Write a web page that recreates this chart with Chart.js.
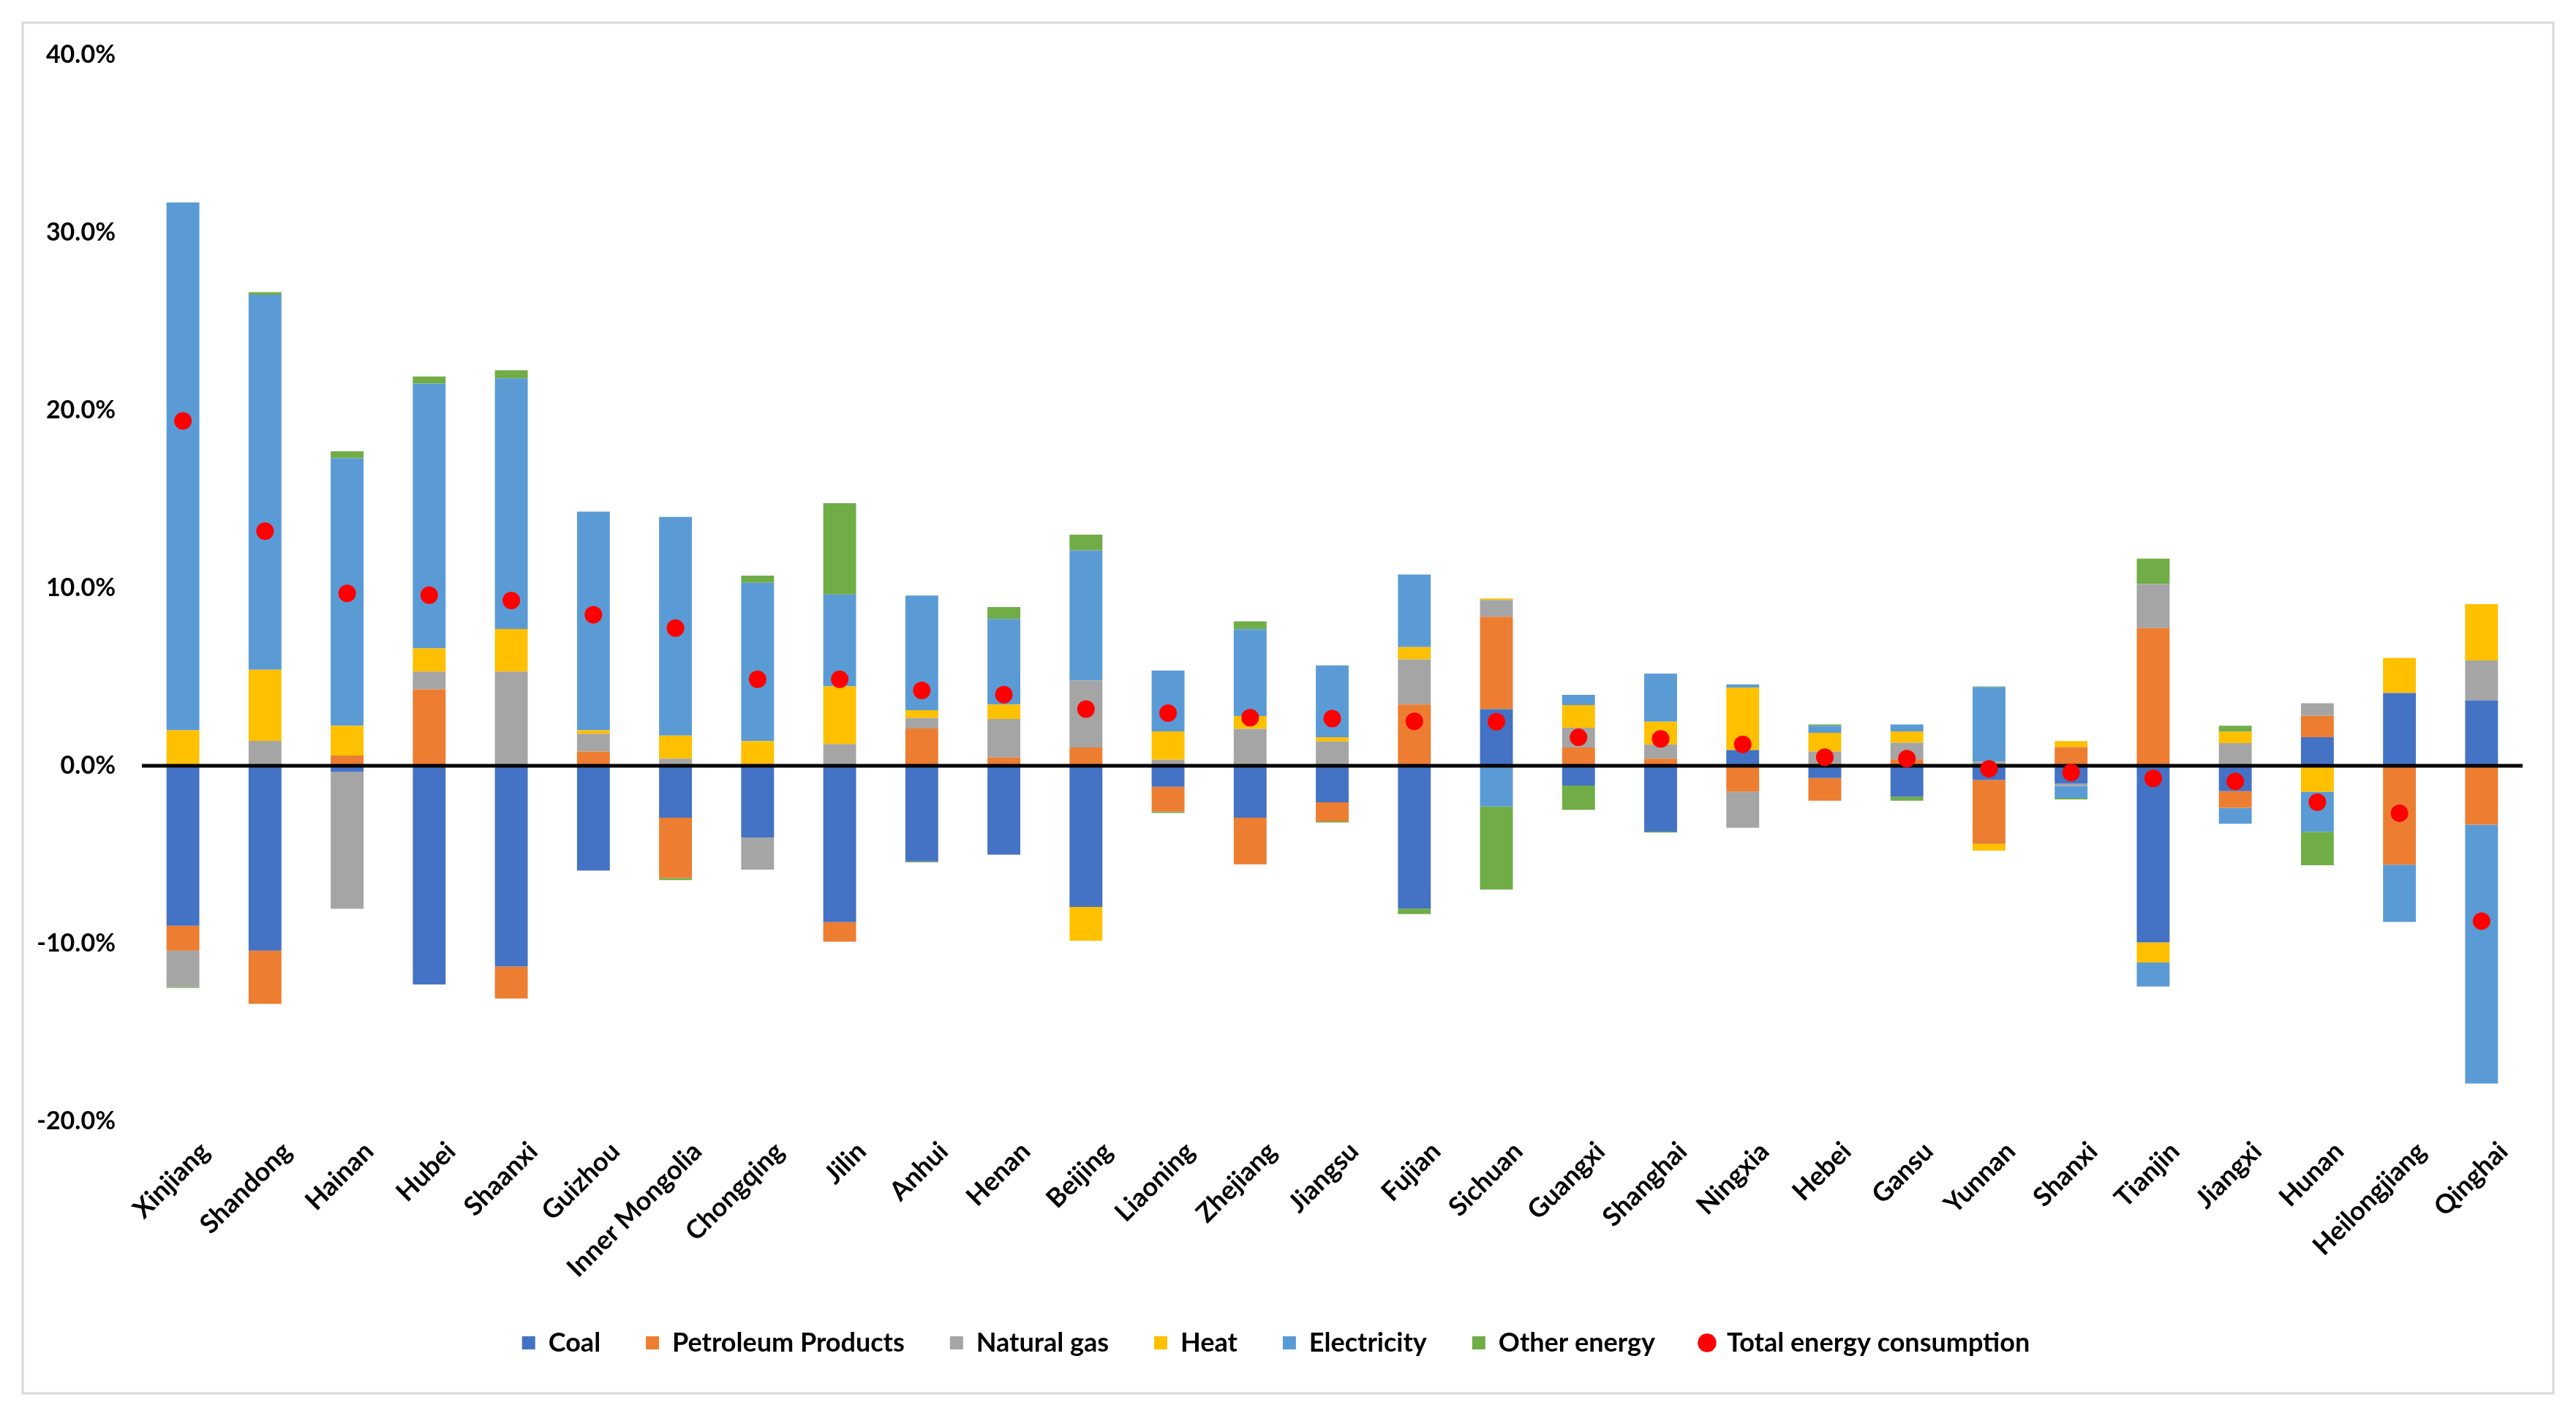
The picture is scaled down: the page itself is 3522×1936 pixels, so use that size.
<!DOCTYPE html>
<html>
<head>
<meta charset="utf-8">
<script src="https://cdn.jsdelivr.net/npm/chart.js@4.4.1/dist/chart.umd.min.js"></script>
<style>
  html, body { margin: 0; padding: 0; background: #fff; overflow: hidden; }
  canvas { display: block; }
</style>
</head>
<body>
<canvas id="chart" width="3522" height="1936"></canvas>
<script>
var regions = ['Xinjiang', 'Shandong', 'Hainan', 'Hubei', 'Shaanxi', 'Guizhou', 'Inner Mongolia',
  'Chongqing', 'Jilin', 'Anhui', 'Henan', 'Beijing', 'Liaoning', 'Zhejiang', 'Jiangsu', 'Fujian',
  'Sichuan', 'Guangxi', 'Shanghai', 'Ningxia', 'Hebei', 'Gansu', 'Yunnan', 'Shanxi', 'Tianjin',
  'Jiangxi', 'Hunan', 'Heilongjiang', 'Qinghai'];

// contribution to growth rate (%)
var coal = [-9.0, -10.4, -0.35, -12.3, -11.3, -5.9, -2.92, -4.03, -8.8, -5.38, -5.0, -7.94, -1.18, -2.92, -2.06,
  -8.03, 3.19, -1.11, -3.7, 0.88, -0.69, -1.74, -0.8, -1.01, -9.94, -1.43, 1.61, 4.09, 3.68];
var petroleum = [-1.4, -3.0, 0.58, 4.3, -1.8, 0.8, -3.4, 0.1, -1.1, 2.1, 0.46, 1.03, -1.4, -2.63, -1.07,
  3.45, 5.19, 1.03, 0.4, -1.45, -1.28, 0.36, -3.59, 1.05, 7.75, -0.94, 1.2, -5.57, -3.31];
var naturalGas = [-2.05, 1.4, -7.7, 1.0, 5.3, 1.0, 0.4, -1.81, 1.22, 0.59, 2.17, 3.76, 0.34, 2.08, 1.37,
  2.54, 0.95, 1.11, 0.8, -2.04, 0.8, 0.94, 0.23, -0.12, 2.48, 1.28, 0.71, 0, 2.25];
var heat = [2.0, 4.0, 1.67, 1.3, 2.4, 0.2, 1.3, 1.29, 3.25, 0.44, 0.82, -1.91, 1.59, 0.72, 0.23,
  0.69, 0.08, 1.28, 1.28, 3.51, 1.05, 0.63, -0.38, 0.34, -1.13, 0.63, -1.46, 1.98, 3.16];
var electricity = [29.7, 21.1, 15.05, 14.9, 14.1, 12.3, 12.3, 8.91, 5.17, 6.45, 4.81, 7.33, 3.43, 4.89, 4.05,
  4.08, -2.29, 0.57, 2.71, 0.19, 0.4, 0.4, 4.2, -0.68, -1.35, -0.89, -2.25, -3.22, -14.57];
var otherEnergy = [-0.05, 0.15, 0.4, 0.4, 0.45, 0, -0.11, 0.4, 5.13, -0.05, 0.67, 0.88, -0.07, 0.44, -0.06,
  -0.31, -4.68, -1.37, -0.06, 0, 0.08, -0.23, 0.04, -0.08, 1.43, 0.34, -1.89, 0, 0];
var totalEnergy = [19.4, 13.2, 9.7, 9.6, 9.3, 8.5, 7.75, 4.87, 4.87, 4.24, 4.0, 3.19, 2.96, 2.71, 2.65,
  2.5, 2.48, 1.6, 1.51, 1.2, 0.48, 0.4, -0.17, -0.38, -0.71, -0.88, -2.05, -2.67, -8.74];

var yMin = -20, yMax = 40, yStep = 10;

var fontFamily = 'Lato, "Open Sans", sans-serif';

function barSet(label, data, color) {
  return {
    type: 'bar',
    label: label,
    data: data,
    backgroundColor: color,
    borderWidth: 0,
    pointStyle: 'rect',
    barPercentage: 0.4,
    categoryPercentage: 1.0,
    stack: 'energy'
  };
}

// light grey frame round the whole chart
var framePlugin = {
  id: 'frame',
  beforeDraw: function(chart) {
    var ctx = chart.ctx;
    ctx.save();
    ctx.fillStyle = '#fff';
    ctx.fillRect(0, 0, chart.width, chart.height);
    ctx.strokeStyle = '#d9d9d9';
    ctx.lineWidth = 3;
    ctx.strokeRect(31, 31, chart.width - 62, chart.height - 62);
    ctx.restore();
  }
};

// black zero line over the bars, under the red dots
var zeroLine = {
  id: 'zeroLine',
  beforeDatasetDraw: function(chart, args) {
    if (args.meta.type !== 'line') return;
    var y = chart.scales.y.getPixelForValue(0);
    var ctx = chart.ctx;
    ctx.save();
    ctx.strokeStyle = '#000';
    ctx.lineWidth = 5;
    ctx.beginPath();
    ctx.moveTo(chart.chartArea.left, y);
    ctx.lineTo(chart.chartArea.right, y);
    ctx.stroke();
    ctx.restore();
  }
};

var ctx = document.getElementById('chart').getContext('2d');
var myChart = new Chart(ctx, {
  data: {
    labels: regions,
    datasets: [
      barSet('Coal', coal, '#4472C4'),
      barSet('Petroleum Products', petroleum, '#ED7D31'),
      barSet('Natural gas', naturalGas, '#A5A5A5'),
      barSet('Heat', heat, '#FFC000'),
      barSet('Electricity', electricity, '#5B9BD5'),
      barSet('Other energy', otherEnergy, '#70AD47'),
      {
        type: 'line',
        label: 'Total energy consumption',
        data: totalEnergy,
        showLine: false,
        pointStyle: 'circle',
        pointRadius: 12,
        pointBorderWidth: 0,
        backgroundColor: '#FF0000',
        borderColor: '#FF0000',
        stack: 'total',
        order: -1
      }
    ]
  },
  options: {
    responsive: false,
    devicePixelRatio: 1,
    animation: false,
    events: [],
    layout: { padding: { left: 40, top: 75, right: 73, bottom: 72 } },
    plugins: {
      tooltip: { enabled: false },
      legend: {
        position: 'bottom',
        labels: {
          usePointStyle: true,
          boxWidth: 18,
          boxHeight: 18,
          padding: 62,
          color: '#000',
          font: { family: fontFamily, size: 36, weight: 'bold' },
          sort: function(a, b) { return a.datasetIndex - b.datasetIndex; }
        }
      }
    },
    scales: {
      x: {
        stacked: true,
        grid: { display: false, drawTicks: false },
        border: { display: false },
        ticks: {
          autoSkip: false,
          minRotation: 45,
          maxRotation: 45,
          padding: 20,
          labelOffset: 30,
          color: '#000',
          font: { family: fontFamily, size: 36, weight: 'bold' }
        },
        afterFit: function(scale) { scale.height = 223; }
      },
      y: {
        stacked: true,
        min: yMin,
        max: yMax,
        grid: { display: false, drawTicks: false },
        border: { display: false },
        ticks: {
          stepSize: yStep,
          padding: 36,
          color: '#000',
          font: { family: fontFamily, size: 34, weight: 'bold' },
          callback: function(v) { return v.toFixed(1) + '%'; }
        },
        afterFit: function(scale) { scale.width = 154; }
      }
    }
  },
  plugins: [framePlugin, zeroLine]
});
</script>
</body>
</html>
